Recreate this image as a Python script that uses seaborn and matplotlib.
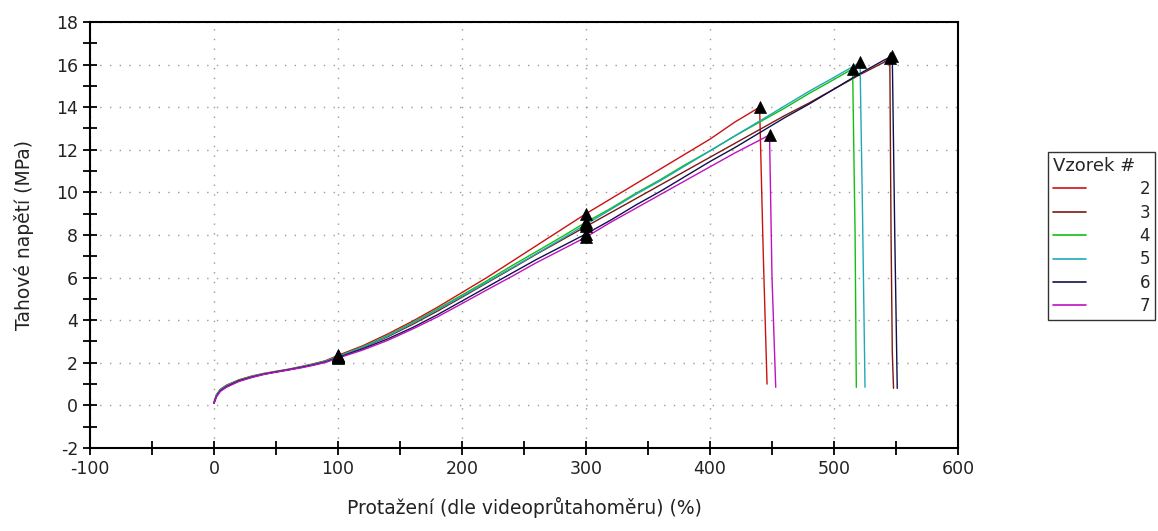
import seaborn as sns
import pandas as pd
import numpy as np
import matplotlib
matplotlib.use("Agg")
import matplotlib.pyplot as plt
from matplotlib.lines import Line2D
from matplotlib.ticker import MultipleLocator

# strain (%) / stress (MPa) for each sample
base_x = [0, 2, 5, 10, 20, 30, 40, 50, 60, 70, 80, 90, 100, 120, 140, 160,
          180, 200, 220, 240, 260, 280, 300]

s2_x = base_x + [320, 340, 360, 380, 400, 420, 440, 443, 446]
s2_y = [0.15, 0.5, 0.75, 0.95, 1.2, 1.37, 1.5, 1.6, 1.7, 1.82, 1.95, 2.1, 2.35,
        2.8, 3.35, 3.95, 4.6, 5.3, 6.0, 6.75, 7.5, 8.25, 9.0,
        9.7, 10.4, 11.1, 11.8, 12.5, 13.3, 14.0, 7.0, 1.0]

s3_x = base_x + [320, 340, 360, 380, 400, 420, 440, 460, 480, 500, 520, 540,
                 545, 546, 547, 548]
s3_y = [0.1, 0.45, 0.7, 0.9, 1.15, 1.33, 1.47, 1.58, 1.68, 1.79, 1.92, 2.06,
        2.28, 2.72, 3.22, 3.8, 4.42, 5.08, 5.75, 6.42, 7.1, 7.75, 8.4,
        9.05, 9.7, 10.35, 11.0, 11.65, 12.3, 12.95, 13.6, 14.2, 14.85, 15.5,
        16.1, 16.3, 8.0, 2.5, 0.8]

s4_x = base_x + [320, 340, 360, 380, 400, 420, 440, 460, 480, 500, 515, 517, 518]
s4_y = [0.12, 0.5, 0.72, 0.92, 1.18, 1.35, 1.48, 1.58, 1.68, 1.8, 1.93, 2.08,
        2.3, 2.75, 3.28, 3.88, 4.52, 5.18, 5.85, 6.55, 7.22, 7.9, 8.6,
        9.25, 9.95, 10.6, 11.3, 11.95, 12.65, 13.3, 13.95, 14.65, 15.3, 15.8,
        8.0, 0.85]

s5_x = base_x + [320, 340, 360, 380, 400, 420, 440, 460, 480, 500, 521, 523, 525]
s5_y = [0.12, 0.48, 0.72, 0.92, 1.17, 1.34, 1.48, 1.58, 1.68, 1.8, 1.92, 2.07,
        2.3, 2.73, 3.25, 3.85, 4.48, 5.12, 5.78, 6.45, 7.12, 7.8, 8.5,
        9.2, 9.9, 10.55, 11.25, 11.95, 12.65, 13.35, 14.05, 14.75, 15.4, 16.1,
        9.0, 0.85]

s6_x = base_x + [320, 340, 360, 380, 400, 420, 440, 460, 480, 500, 520, 540,
                 547, 549, 551]
s6_y = [0.1, 0.42, 0.68, 0.88, 1.15, 1.32, 1.46, 1.57, 1.67, 1.78, 1.9, 2.04,
        2.25, 2.66, 3.12, 3.65, 4.25, 4.9, 5.55, 6.2, 6.85, 7.45, 8.05,
        8.7, 9.4, 10.05, 10.75, 11.45, 12.1, 12.8, 13.5, 14.15, 14.85, 15.55,
        16.2, 16.4, 8.0, 0.8]

s7_x = base_x + [320, 340, 360, 380, 400, 420, 440, 448, 450, 453]
s7_y = [0.1, 0.4, 0.65, 0.85, 1.12, 1.3, 1.45, 1.56, 1.66, 1.76, 1.88, 2.02,
        2.22, 2.6, 3.05, 3.58, 4.15, 4.78, 5.42, 6.05, 6.7, 7.3, 7.9,
        8.6, 9.25, 9.9, 10.55, 11.2, 11.85, 12.45, 12.7, 6.0, 0.85]

samples = ["2", "3", "4", "5", "6", "7"]
colors = ["#cc1010", "#7a1a10", "#10c010", "#20a8b8", "#101050", "#c010c0"]

series = [(s2_x, s2_y), (s3_x, s3_y), (s4_x, s4_y),
          (s5_x, s5_y), (s6_x, s6_y), (s7_x, s7_y)]

frames = []
marks = []
for name, (xs, ys) in zip(samples, series):
    frames.append(pd.DataFrame({"x": xs, "y": ys, "vzorek": name}))
    # triangles at 100 %, 300 % and at break
    peak = int(np.argmax(ys))
    for i in (xs.index(100), xs.index(300), peak):
        marks.append((xs[i], ys[i]))
df = pd.concat(frames, ignore_index=True)
mk = pd.DataFrame(marks, columns=["x", "y"])

sns.set_style("white")
plt.rcParams["font.family"] = ["DejaVu Sans"]
plt.rcParams["axes.unicode_minus"] = False

fig = plt.figure(figsize=(11.58, 5.31), dpi=100)
ax = fig.add_axes([0.0777, 0.1563, 0.7496, 0.8023])

pal = dict(zip(samples, colors))
sns.lineplot(data=df, x="x", y="y", hue="vzorek", palette=pal, sort=False,
             estimator=None, linewidth=1.0, legend=False, ax=ax)
sns.scatterplot(data=mk, x="x", y="y", marker="^", color="black", s=75,
                edgecolor="black", linewidth=0.5, zorder=5, ax=ax)

ax.set_xlim(-100, 600)
ax.set_ylim(-2, 18)
ax.xaxis.set_major_locator(MultipleLocator(100))
ax.xaxis.set_minor_locator(MultipleLocator(50))
ax.yaxis.set_major_locator(MultipleLocator(2))
ax.yaxis.set_minor_locator(MultipleLocator(1))
ax.tick_params(which="both", direction="inout", length=10, width=1.3,
               color="black", labelsize=12.5, labelcolor="#222222")
ax.tick_params(which="both", top=False, right=False, bottom=True, left=True)
ax.grid(True, which="major", linestyle=(0, (1, 6)), color="#999999",
        linewidth=1.0)
for sp in ax.spines.values():
    sp.set_color("black")
    sp.set_linewidth(1.5)

ax.set_xlabel("Protažení (dle videoprůtahoměru) (%)", fontsize=13.5,
              color="#222222", labelpad=14)
ax.set_ylabel("Tahové napětí (MPa)", fontsize=13.5, color="#222222",
              labelpad=16)

handles = [Line2D([], [], color=c, linewidth=1.2) for c in colors]
leg = fig.legend(handles, samples, title="Vzorek #", loc="upper left",
                 bbox_to_anchor=(1048 / 1158, 1 - 152 / 531),
                 bbox_transform=fig.transFigure, borderaxespad=0,
                 fontsize=12, title_fontsize=13, handlelength=2.0,
                 handletextpad=3.2, labelspacing=0.32, frameon=True,
                 fancybox=False, alignment="left", borderpad=0.3)
leg.get_frame().set_edgecolor("black")
leg.get_frame().set_linewidth(1.0)

fig.savefig("out.png", dpi=100)
